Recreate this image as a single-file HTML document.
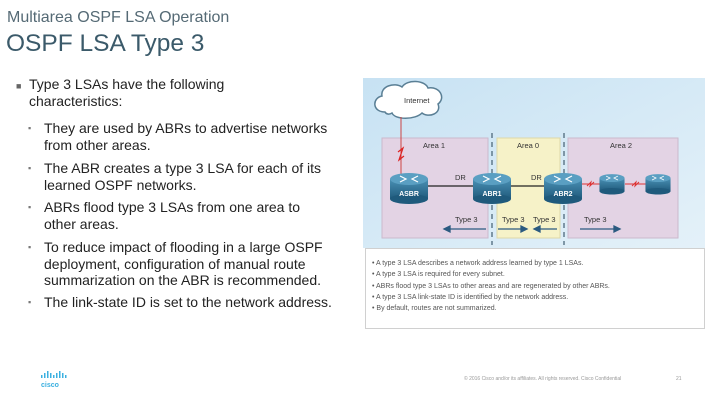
<!DOCTYPE html>
<html><head><meta charset="utf-8"><style>
body{margin:0;width:720px;height:405px;position:relative;background:#fff;font-family:"Liberation Sans",sans-serif;overflow:hidden}
.a{position:absolute;white-space:nowrap}
.t{font-size:14px;color:#222;line-height:16.5px}
</style></head><body>
<div class="a" style="left:7px;top:9px;font-size:16px;color:#556a75">Multiarea OSPF LSA Operation</div>
<div class="a" style="left:6px;top:30px;font-size:24.5px;color:#3b5a6a">OSPF LSA Type 3</div>

<div class="a t" style="left:16px;top:76px"><span style="font-size:9px;color:#666">■</span></div>
<div class="a t" style="left:29px;top:76px">Type 3 LSAs have the following<br>characteristics:</div>

<div class="a t" style="left:28px;top:120px;font-size:9px;color:#777">▪</div>
<div class="a t" style="left:44px;top:120px">They are used by ABRs to advertise networks<br>from other areas.</div>
<div class="a t" style="left:28px;top:160px;font-size:9px;color:#777">▪</div>
<div class="a t" style="left:44px;top:160px">The ABR creates a type 3 LSA for each of its<br>learned OSPF networks.</div>
<div class="a t" style="left:28px;top:199px;font-size:9px;color:#777">▪</div>
<div class="a t" style="left:44px;top:199px">ABRs flood type 3 LSAs from one area to<br>other areas.</div>
<div class="a t" style="left:28px;top:239px;font-size:9px;color:#777">▪</div>
<div class="a t" style="left:44px;top:239px">To reduce impact of flooding in a large OSPF<br>deployment, configuration of manual route<br>summarization on the ABR is recommended.</div>
<div class="a t" style="left:28px;top:294px;font-size:9px;color:#777">▪</div>
<div class="a t" style="left:44px;top:294px">The link-state ID is set to the network address.</div>

<svg class="a" style="left:0;top:0" width="720" height="405" font-family="Liberation Sans, sans-serif">
<defs>
<linearGradient id="bg" x1="0" y1="0" x2="1" y2="1"><stop offset="0" stop-color="#c7e2f3"/><stop offset="1" stop-color="#e4f1f9"/></linearGradient>
<linearGradient id="rt" x1="0" y1="0" x2="0" y2="1"><stop offset="0" stop-color="#4a90b4"/><stop offset="1" stop-color="#1f5a7c"/></linearGradient>
<g id="r">
<rect x="-19" y="-9" width="38" height="20" fill="url(#rt)"/>
<ellipse cx="0" cy="11" rx="19" ry="5" fill="#1f5a7c"/>
<ellipse cx="0" cy="-9" rx="19" ry="6" fill="#5a9fc2"/>
<path d="M-9,-12 L-3,-9 L-9,-6 M9,-12 L3,-9 L9,-6" stroke="#fff" stroke-width="1.2" fill="none"/>
</g>
</defs>
<rect x="363" y="78" width="342" height="170" fill="url(#bg)"/>
<rect x="382" y="138" width="106" height="100" fill="#e3d3e4" stroke="#cbb9cc"/>
<rect x="497" y="138" width="63" height="100" fill="#f6f2c8" stroke="#ddd8a8"/>
<rect x="568" y="138" width="110" height="100" fill="#e3d3e4" stroke="#cbb9cc"/>
<line x1="492" y1="133" x2="492" y2="245" stroke="#607a8c" stroke-width="1.5" stroke-dasharray="5,4"/>
<line x1="564" y1="133" x2="564" y2="245" stroke="#607a8c" stroke-width="1.5" stroke-dasharray="5,4"/>
<path d="M385,112 C372,112 372,98 382,96 C380,86 395,82 402,87 C407,79 425,80 428,88 C440,86 446,98 438,104 C442,114 428,118 422,113 C415,120 395,120 392,113 C389,115 386,114 385,112 Z" fill="#fff" stroke="#5a7f95" stroke-width="1.5"/>
<text x="404" y="103" font-size="7.5" fill="#333">Internet</text>
<line x1="401" y1="117" x2="401" y2="178" stroke="#c44" stroke-width="1"/>
<path d="M398,152 L403,148 L399,160 L404,156" stroke="#d22" fill="none" stroke-width="1.2"/>
<text x="423" y="148" font-size="7.5" fill="#333">Area 1</text>
<text x="517" y="148" font-size="7.5" fill="#333">Area 0</text>
<text x="610" y="148" font-size="7.5" fill="#333">Area 2</text>
<line x1="425" y1="186" x2="475" y2="186" stroke="#222" stroke-width="1.2"/>
<line x1="508" y1="186" x2="548" y2="186" stroke="#222" stroke-width="1.2"/>
<text x="455" y="180" font-size="7.5" fill="#333">DR</text>
<text x="531" y="180" font-size="7.5" fill="#333">DR</text>
<g stroke="#d33" stroke-width="1" fill="none">
<line x1="580" y1="184" x2="600" y2="184"/><path d="M587,186 L591,182 L590,186 L594,182"/>
<line x1="625" y1="184" x2="646" y2="184"/><path d="M632,186 L636,182 L635,186 L639,182"/>
</g>
<use href="#r" x="409" y="188"/>
<use href="#r" x="492" y="188"/>
<use href="#r" x="563" y="188"/>
<g transform="translate(612,184) scale(0.66)"><use href="#r"/></g>
<g transform="translate(658,184) scale(0.66)"><use href="#r"/></g>
<text x="409" y="196" font-size="7" fill="#fff" text-anchor="middle" font-weight="bold">ASBR</text>
<text x="492" y="196" font-size="7" fill="#fff" text-anchor="middle" font-weight="bold">ABR1</text>
<text x="563" y="196" font-size="7" fill="#fff" text-anchor="middle" font-weight="bold">ABR2</text>
<g font-size="7.5" fill="#333">
<text x="455" y="222">Type 3</text><text x="502" y="222">Type 3</text><text x="533" y="222">Type 3</text><text x="584" y="222">Type 3</text>
</g>
<g stroke="#2b5a80" stroke-width="1.3" fill="#2b5a80">
<line x1="448" y1="229" x2="486" y2="229"/><path d="M444,229 L450,226 L450,232Z"/>
<line x1="498" y1="229" x2="522" y2="229"/><path d="M527,229 L521,226 L521,232Z"/>
<line x1="538" y1="229" x2="557" y2="229"/><path d="M534,229 L540,226 L540,232Z"/>
<line x1="580" y1="229" x2="615" y2="229"/><path d="M620,229 L614,226 L614,232Z"/>
</g>
<rect x="365.5" y="248.5" width="339" height="80" fill="#fff" stroke="#d0d0d0"/>
<g font-size="7" fill="#555">
<text x="372" y="265">•  A type 3 LSA describes a network address learned by type 1 LSAs.</text>
<text x="372" y="276">•  A type 3 LSA is required for every subnet.</text>
<text x="372" y="288">•  ABRs flood type 3 LSAs to other areas and are regenerated by other ABRs.</text>
<text x="372" y="299">•  A type 3 LSA link-state ID is identified by the network address.</text>
<text x="372" y="310">•  By default, routes are not summarized.</text>
</g>
<g fill="#3bb0e0">
<rect x="41" y="375" width="1.5" height="3"/><rect x="44" y="373" width="1.5" height="5"/><rect x="47" y="371" width="1.5" height="7"/><rect x="50" y="373" width="1.5" height="5"/><rect x="53" y="375" width="1.5" height="3"/><rect x="56" y="373" width="1.5" height="5"/><rect x="59" y="371" width="1.5" height="7"/><rect x="62" y="373" width="1.5" height="5"/><rect x="65" y="375" width="1.5" height="3"/>
</g>
<text x="41" y="387" font-size="7" fill="#3bb0e0" font-weight="bold">cisco</text>
<text x="464" y="380" font-size="5" fill="#999">© 2016 Cisco and/or its affiliates. All rights reserved.   Cisco Confidential</text>
<text x="676" y="380" font-size="5" fill="#999">21</text>
</svg>
</body></html>
